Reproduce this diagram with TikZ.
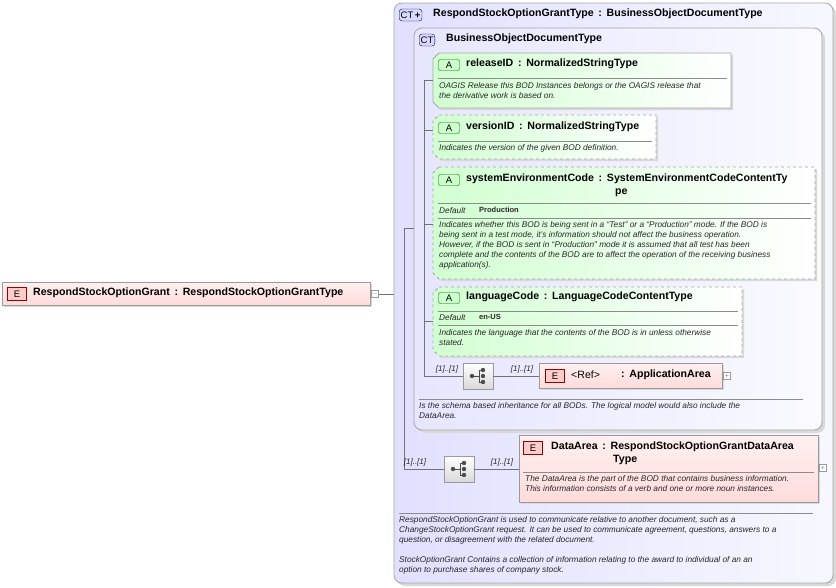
\documentclass[tikz,border=0pt]{standalone}
\usepackage{fontspec}
\setmainfont{Liberation Sans}
\usetikzlibrary{calc}
\begin{document}
\begin{tikzpicture}[x=1pt,y=-1pt,
  ttl/.style={font=\bfseries\fontsize{10.6}{12.5}\selectfont,anchor=west,inner sep=0pt},
  dsc/.style={font=\itshape\fontsize{8.3}{10}\selectfont,anchor=north west,inner sep=0pt,align=left,text=black!85},
  card/.style={font=\itshape\fontsize{8}{9}\selectfont,inner sep=0pt,text=black!85},
  con/.style={draw=black!55,line width=0.6pt},
  ctbox/.style={draw=black!35,rounded corners=8pt,line width=0.8pt},
  badgeA/.style={draw=green!40!black,fill=green!20,rounded corners=2pt,minimum width=21pt,minimum height=11pt,inner sep=0pt,font=\fontsize{9.5}{10}\selectfont},
  badgeE/.style={draw=red!60!black,fill=red!20,minimum width=19pt,minimum height=13pt,inner sep=0pt,font=\fontsize{9.5}{10}\selectfont},
  badgeC/.style={draw=blue!40!black,fill=blue!15,rounded corners=3pt,minimum height=12pt,inner sep=1.5pt,font=\fontsize{9.5}{10}\selectfont},
  plus/.style={draw=black!40,fill=white,minimum size=7pt,inner sep=0pt,font=\fontsize{7}{7}\selectfont,text=black!50},
  seq/.style={draw=black!40,top color=white,bottom color=black!15,minimum width=30pt,minimum height=26pt,inner sep=0pt},
]
\newcommand\cl{\ \,:\ \,}
\useasboundingbox (0,0) rectangle (836,587);
% outer CT
\fill[black!15,rounded corners=8pt] (397,6) rectangle (836,586);
\draw[ctbox,left color=blue!12,right color=blue!3] (394,3) rectangle (833,583);
\node[badgeC,anchor=west] (ctb) at (399,15) {CT\,\textbf{+}};
\node[ttl] (ctt) at (433,14) {RespondStockOptionGrantType\cl BusinessObjectDocumentType};
% inner CT
\fill[black!15,rounded corners=8pt] (417,31) rectangle (825,433);
\draw[ctbox,left color=blue!10,right color=blue!2] (414,28) rectangle (822,430);
\node[badgeC,anchor=west] (ctb2) at (419,40) {CT};
\node[ttl] (ctt2) at (446,39) {BusinessObjectDocumentType};

\newcommand\attrbox[5]{% x1,y1,x2,y2,style
  \fill[black!15] (#1+2,#2+2) -- (#3+2,#2+2) -- (#3+2,#4+2) -- (#1+8,#4+2) -- (#1+2,#4-4) -- cycle;
  \draw[draw=black!35,line width=0.8pt,#5,left color=green!18,right color=white]
    (#1+6,#2) -- (#3,#2) -- (#3,#4) -- (#1+6,#4) -- (#1,#4-6) -- (#1,#2+6) -- cycle;}
\attrbox{433}{53}{731}{108}{}
\attrbox{433}{115}{656}{159}{dashed}
\attrbox{433}{167}{815}{279}{dashed}
\attrbox{433}{287}{742}{356}{dashed}

\node[badgeA] (a1) at (449,65) {A};
\node[ttl] (t1) at (466,64) {releaseID\cl NormalizedStringType};
\draw[black!45] (438,78) -- (727,78);
\node[dsc] (d1) at (439,82) {OAGIS Release this BOD Instances belongs or the OAGIS release that\\the derivative work is based on.};

\node[badgeA] (a2) at (449,128) {A};
\node[ttl] (t2) at (466,127) {versionID\cl NormalizedStringType};
\draw[black!45] (438,141) -- (652,141);
\node[dsc] (d2) at (439,144) {Indicates the version of the given BOD definition.};

\node[badgeA] (a3) at (449,180) {A};
\node[ttl,align=left,anchor=north west] (t3) at (466,174) {systemEnvironmentCode\cl SystemEnvironmentCodeContentTy\\\hspace*{149pt}pe};
\draw[black!45] (438,203) -- (811,203);
\node[dsc] (k3) at (439,207) {Default};
\node[dsc,font=\bfseries\fontsize{7.5}{9}\selectfont] (v3) at (479,207) {Production};
\draw[black!45] (438,218) -- (811,218);
\node[dsc] (d3) at (439,221) {Indicates whether this BOD is being sent in a ``Test'' or a ``Production'' mode. If the BOD is\\being sent in a test mode, it's information should not affect the business operation.\\However, if the BOD is sent in ``Production'' mode it is assumed that all test has been\\complete and the contents of the BOD are to affect the operation of the receiving business\\application(s).};

\node[badgeA] (a4) at (449,298) {A};
\node[ttl] (t4) at (466,297) {languageCode\cl LanguageCodeContentType};
\draw[black!45] (438,311) -- (738,311);
\node[dsc] (k4) at (439,314) {Default};
\node[dsc,font=\bfseries\fontsize{7.5}{9}\selectfont] (v4) at (479,314) {en-US};
\draw[black!45] (438,325) -- (738,325);
\node[dsc] (d4) at (439,329) {Indicates the language that the contents of the BOD is in unless otherwise\\stated.};

% sequence + ApplicationArea
\node[seq] (s1) at (478,376) {};
\foreach \yy in {-6,0,6}{\fill[black!70] ($(s1)+(5,\yy)$) circle (2.2pt);}
\fill[black!70] ($(s1)+(-6,0)$) circle (2.2pt);
\draw[black!70,line width=0.8pt] ($(s1)+(-6,0)$) -- ($(s1)+(1,0)$) ($(s1)+(1,-6)$) -- ($(s1)+(1,6)$) ($(s1)+(1,-6)$) -- ($(s1)+(5,-6)$) ($(s1)+(1,6)$) -- ($(s1)+(5,6)$);
\fill[black!15] (541,365) rectangle (724,390);
\draw[draw=black!40,top color=red!6,bottom color=red!14] (539,363) rectangle (722,388);
\node[badgeE] (e1) at (555,376) {E};
\node[ttl,font=\fontsize{10.6}{12}\selectfont] (r1) at (571,375) {<Ref>};
\node[ttl] (aa) at (621,375) {:\ \,ApplicationArea};
\node[plus] (p1) at (727,376) {+};

\draw[black!45] (419,399) -- (803,399);
\node[dsc] (d5) at (419,402) {Is the schema based inheritance for all BODs. The logical model would also include the\\DataArea.};

% DataArea
\node[seq] (s2) at (459,469) {};
\foreach \yy in {-6,0,6}{\fill[black!70] ($(s2)+(5,\yy)$) circle (2.2pt);}
\fill[black!70] ($(s2)+(-6,0)$) circle (2.2pt);
\draw[black!70,line width=0.8pt] ($(s2)+(-6,0)$) -- ($(s2)+(1,0)$) ($(s2)+(1,-6)$) -- ($(s2)+(1,6)$) ($(s2)+(1,-6)$) -- ($(s2)+(5,-6)$) ($(s2)+(1,6)$) -- ($(s2)+(5,6)$);
\fill[black!15] (521,437) rectangle (820,504);
\draw[draw=black!40,top color=red!6,bottom color=red!14] (519,435) rectangle (818,502);
\node[badgeE] (e2) at (533,448) {E};
\node[ttl] (t6) at (551,447) {DataArea\cl RespondStockOptionGrantDataArea};
\node[ttl] (t6b) at (613,460) {Type};
\draw[black!45] (523,472) -- (814,472);
\node[dsc] (d6) at (525,475) {The DataArea is the part of the BOD that contains business information.\\This information consists of a verb and one or more noun instances.};
\node[plus] (p2) at (823,468) {+};

\draw[black!45] (399,513) -- (813,513);
\node[dsc] (d7) at (399,516) {RespondStockOptionGrant is used to communicate relative to another document, such as a\\ChangeStockOptionGrant request. It can be used to communicate agreement, questions, answers to a\\question, or disagreement with the related document.\\[10pt]StockOptionGrant  Contains a collection of information relating to the award to individual of an an\\option to purchase shares of company stock.};

% left element
\fill[black!15] (4,284) rectangle (372,307);
\draw[draw=black!40,top color=red!6,bottom color=red!14] (2,282) rectangle (370,305);
\node[badgeE] (e0) at (17,294) {E};
\node[ttl] (t0) at (33,293) {RespondStockOptionGrant\cl RespondStockOptionGrantType};
\node[plus] (p0) at (375,294) {$-$};

% connectors
\coordinate (j0) at (394,294);
\draw[con] (p0.east) -- (j0);
\coordinate (v1) at (404,228);
\coordinate (v2) at (404,469);
\draw[con] (v1) -- (v2);
\draw[con] (v1) -- (414,228);
\draw[con] (v2) -- (s2.west);
\draw[con] (s2.east) -- (519,469);
\node[card] at (415,462) {[1]..[1]};
\node[card] at (502,462) {[1]..[1]};

\coordinate (w1) at (424,80);
\coordinate (w2) at (424,376);
\draw[con] (w1) -- (w2);
\draw[con] (w1) -- (433,80);
\draw[con] (424,130) -- (433,130);
\draw[con] (424,224) -- (433,224);
\draw[con] (424,321) -- (433,321);
\draw[con] (w2) -- (s1.west);
\draw[con] (s1.east) -- (539,376);
\node[card] at (447,369) {[1]..[1]};
\node[card] at (522,369) {[1]..[1]};
\end{tikzpicture}
\end{document}
